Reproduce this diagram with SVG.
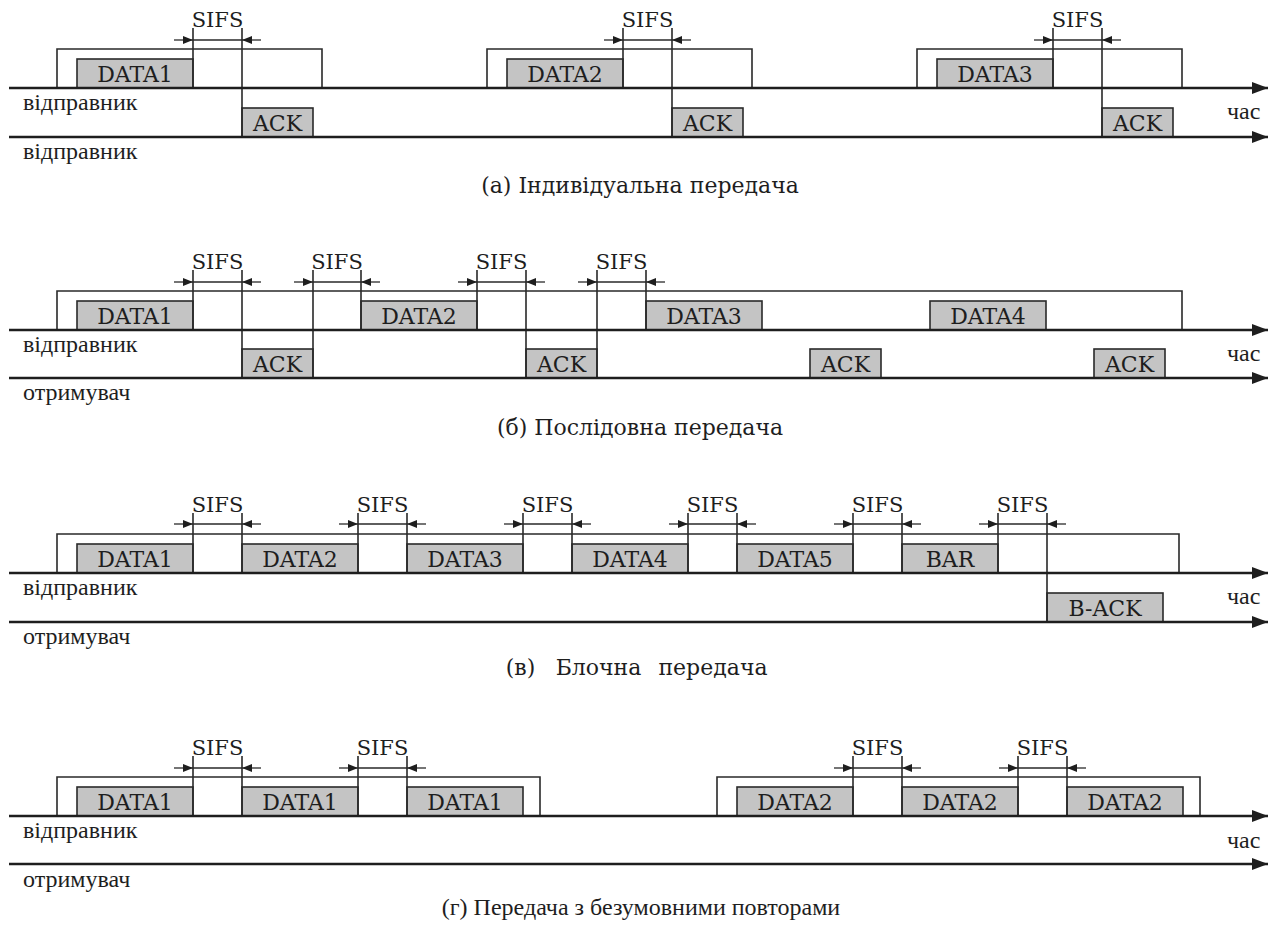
<svg xmlns="http://www.w3.org/2000/svg" width="1278" height="928" viewBox="0 0 1278 928">
<style>
.axis{stroke:#1e1e1e;stroke-width:2.6;fill:none}
.frame{stroke:#2a2a2a;stroke-width:1.6;fill:none}
.vl{stroke:#2a2a2a;stroke-width:1.6;fill:none}
.sl{stroke:#2a2a2a;stroke-width:1.3;fill:none}
.box{fill:#c4c4c4;stroke:#2a2a2a;stroke-width:1.6}
.bt{font-size:22px;fill:#1e1e1e;text-anchor:middle}
.st{font-size:21px;fill:#1e1e1e;text-anchor:middle}
.lb{font-size:24px;fill:#1e1e1e}
.cap{font-size:22px;fill:#1e1e1e;text-anchor:middle}
.capd{font-size:24px;fill:#1e1e1e;text-anchor:middle}
</style>
<defs>
<marker id="ah" markerUnits="userSpaceOnUse" markerWidth="18" markerHeight="14" refX="16" refY="7" orient="auto"><path d="M0,1 L16,7 L0,13 Z" fill="#1e1e1e"/></marker>
<marker id="sa" markerUnits="userSpaceOnUse" markerWidth="11" markerHeight="9" refX="10" refY="4.5" orient="auto"><path d="M0,0.5 L10,4.5 L0,8.5 Z" fill="#1e1e1e"/></marker>
</defs>
<rect width="1278" height="928" fill="#ffffff"/>

<!-- ===== Panel (a) ===== -->
<g id="panel-a">
<g id="a-frames" class="frame">
<path d="M57,88 V49 H322 V88"/>
<path d="M487,88 V49 H752 V88"/>
<path d="M917,88 V49 H1182 V88"/>
</g>
<g font-family="DejaVu Serif">
<g id="a-data1"><rect class="box" x="77" y="59" width="116" height="29"/><text class="bt" x="135" y="82">DATA1</text></g>
<g id="a-data2"><rect class="box" x="507" y="59" width="116" height="29"/><text class="bt" x="565" y="82">DATA2</text></g>
<g id="a-data3"><rect class="box" x="937" y="59" width="116" height="29"/><text class="bt" x="995" y="82">DATA3</text></g>
<g id="a-ack1"><rect class="box" x="242" y="108" width="71" height="29"/><text class="bt" x="277.5" y="131">ACK</text></g>
<g id="a-ack2"><rect class="box" x="672" y="108" width="71" height="29"/><text class="bt" x="707.5" y="131">ACK</text></g>
<g id="a-ack3"><rect class="box" x="1102" y="108" width="71" height="29"/><text class="bt" x="1137.5" y="131">ACK</text></g>
</g>
<g id="a-connectors">
<path class="vl" d="M193,28 V88 M242,28 V137 M623,28 V88 M672,28 V137 M1053,28 V88 M1102,28 V137"/>
<path class="sl" d="M193,40 H242 M623,40 H672 M1053,40 H1102"/>
<g marker-end="url(#sa)" class="sl">
<path d="M174,40 H193"/><path d="M261,40 H242"/>
<path d="M604,40 H623"/><path d="M691,40 H672"/>
<path d="M1034,40 H1053"/><path d="M1121,40 H1102"/>
</g>
<path class="axis" d="M9,88 H1268" marker-end="url(#ah)"/>
<path class="axis" d="M9,137 H1268" marker-end="url(#ah)"/>
</g>
<g font-family="DejaVu Serif">
<text class="st" x="217.5" y="27">SIFS</text>
<text class="st" x="647.5" y="27">SIFS</text>
<text class="st" x="1077.5" y="27">SIFS</text>
<text class="cap" x="640" y="193">(а) Індивідуальна передача</text>
</g>
<g font-family="Liberation Serif">
<text class="lb" x="23" y="110">відправник</text>
<text class="lb" x="23" y="159">відправник</text>
<text class="lb" x="1227" y="119">час</text>
</g>
</g>

<!-- ===== Panel (b) ===== -->
<g id="panel-b">
<g id="b-frame" class="frame"><path d="M57,330 V291 H1182 V330"/></g>
<g font-family="DejaVu Serif">
<g id="b-data1"><rect class="box" x="77" y="301" width="116" height="29"/><text class="bt" x="135" y="324">DATA1</text></g>
<g id="b-data2"><rect class="box" x="361" y="301" width="116" height="29"/><text class="bt" x="419" y="324">DATA2</text></g>
<g id="b-data3"><rect class="box" x="646" y="301" width="116" height="29"/><text class="bt" x="704" y="324">DATA3</text></g>
<g id="b-data4"><rect class="box" x="930" y="301" width="116" height="29"/><text class="bt" x="988" y="324">DATA4</text></g>
<g id="b-ack1"><rect class="box" x="242" y="349" width="71" height="29"/><text class="bt" x="277.5" y="372">ACK</text></g>
<g id="b-ack2"><rect class="box" x="526" y="349" width="71" height="29"/><text class="bt" x="561.5" y="372">ACK</text></g>
<g id="b-ack3"><rect class="box" x="810" y="349" width="71" height="29"/><text class="bt" x="845.5" y="372">ACK</text></g>
<g id="b-ack4"><rect class="box" x="1094" y="349" width="71" height="29"/><text class="bt" x="1129.5" y="372">ACK</text></g>
</g>
<g id="b-connectors">
<path class="vl" d="M193,270 V330 M242,270 V378 M313,270 V378 M361,270 V330 M477,270 V330 M526,270 V378 M597,270 V378 M646,270 V330"/>
<path class="sl" d="M193,282 H242 M313,282 H361 M477,282 H526 M597,282 H646"/>
<g marker-end="url(#sa)" class="sl">
<path d="M174,282 H193"/><path d="M261,282 H242"/>
<path d="M294,282 H313"/><path d="M380,282 H361"/>
<path d="M458,282 H477"/><path d="M545,282 H526"/>
<path d="M578,282 H597"/><path d="M665,282 H646"/>
</g>
<path class="axis" d="M9,330 H1268" marker-end="url(#ah)"/>
<path class="axis" d="M9,378 H1268" marker-end="url(#ah)"/>
</g>
<g font-family="DejaVu Serif">
<text class="st" x="217.5" y="269">SIFS</text>
<text class="st" x="337" y="269">SIFS</text>
<text class="st" x="501.5" y="269">SIFS</text>
<text class="st" x="621.5" y="269">SIFS</text>
<text class="cap" x="640" y="435">(б) Послідовна передача</text>
</g>
<g font-family="Liberation Serif">
<text class="lb" x="23" y="352">відправник</text>
<text class="lb" x="23" y="400">отримувач</text>
<text class="lb" x="1227" y="361">час</text>
</g>
</g>

<!-- ===== Panel (c) ===== -->
<g id="panel-c">
<g id="c-frame" class="frame"><path d="M57,573 V534 H1179 V573"/></g>
<g font-family="DejaVu Serif">
<g id="c-data1"><rect class="box" x="77" y="544" width="116" height="29"/><text class="bt" x="135" y="567">DATA1</text></g>
<g id="c-data2"><rect class="box" x="242" y="544" width="116" height="29"/><text class="bt" x="300" y="567">DATA2</text></g>
<g id="c-data3"><rect class="box" x="407" y="544" width="116" height="29"/><text class="bt" x="465" y="567">DATA3</text></g>
<g id="c-data4"><rect class="box" x="572" y="544" width="116" height="29"/><text class="bt" x="630" y="567">DATA4</text></g>
<g id="c-data5"><rect class="box" x="737" y="544" width="116" height="29"/><text class="bt" x="795" y="567">DATA5</text></g>
<g id="c-bar"><rect class="box" x="902" y="544" width="96" height="29"/><text class="bt" x="950" y="567">BAR</text></g>
<g id="c-back"><rect class="box" x="1047" y="593" width="116" height="29"/><text class="bt" x="1105" y="616">B-ACK</text></g>
</g>
<g id="c-connectors">
<path class="vl" d="M193,513 V573 M242,513 V573 M358,513 V573 M407,513 V573 M523,513 V573 M572,513 V573 M688,513 V573 M737,513 V573 M853,513 V573 M902,513 V573 M998,513 V573 M1047,513 V622"/>
<path class="sl" d="M193,524 H242 M358,524 H407 M523,524 H572 M688,524 H737 M853,524 H902 M998,524 H1047"/>
<g marker-end="url(#sa)" class="sl">
<path d="M174,524 H193"/><path d="M261,524 H242"/>
<path d="M339,524 H358"/><path d="M426,524 H407"/>
<path d="M504,524 H523"/><path d="M591,524 H572"/>
<path d="M669,524 H688"/><path d="M756,524 H737"/>
<path d="M834,524 H853"/><path d="M921,524 H902"/>
<path d="M979,524 H998"/><path d="M1066,524 H1047"/>
</g>
<path class="axis" d="M9,573 H1268" marker-end="url(#ah)"/>
<path class="axis" d="M9,622 H1268" marker-end="url(#ah)"/>
</g>
<g font-family="DejaVu Serif">
<text class="st" x="217.5" y="512">SIFS</text>
<text class="st" x="382.5" y="512">SIFS</text>
<text class="st" x="547.5" y="512">SIFS</text>
<text class="st" x="712.5" y="512">SIFS</text>
<text class="st" x="877.5" y="512">SIFS</text>
<text class="st" x="1022.5" y="512">SIFS</text>
<text class="cap" y="675"><tspan x="524">(в)</tspan> <tspan x="602">Блочна</tspan> <tspan x="713">передача</tspan></text>
</g>
<g font-family="Liberation Serif">
<text class="lb" x="23" y="595">відправник</text>
<text class="lb" x="23" y="644">отримувач</text>
<text class="lb" x="1227" y="604">час</text>
</g>
</g>

<!-- ===== Panel (d) ===== -->
<g id="panel-d">
<g id="d-frames" class="frame">
<path d="M57,816 V777 H540 V816"/>
<path d="M717,816 V777 H1200 V816"/>
</g>
<g font-family="DejaVu Serif">
<g id="d-data1a"><rect class="box" x="77" y="787" width="116" height="29"/><text class="bt" x="135" y="810">DATA1</text></g>
<g id="d-data1b"><rect class="box" x="242" y="787" width="116" height="29"/><text class="bt" x="300" y="810">DATA1</text></g>
<g id="d-data1c"><rect class="box" x="407" y="787" width="116" height="29"/><text class="bt" x="465" y="810">DATA1</text></g>
<g id="d-data2a"><rect class="box" x="737" y="787" width="116" height="29"/><text class="bt" x="795" y="810">DATA2</text></g>
<g id="d-data2b"><rect class="box" x="902" y="787" width="116" height="29"/><text class="bt" x="960" y="810">DATA2</text></g>
<g id="d-data2c"><rect class="box" x="1067" y="787" width="116" height="29"/><text class="bt" x="1125" y="810">DATA2</text></g>
</g>
<g id="d-connectors">
<path class="vl" d="M193,756 V816 M242,756 V816 M358,756 V816 M407,756 V816 M853,756 V816 M902,756 V816 M1018,756 V816 M1067,756 V816"/>
<path class="sl" d="M193,768 H242 M358,768 H407 M853,768 H902 M1018,768 H1067"/>
<g marker-end="url(#sa)" class="sl">
<path d="M174,768 H193"/><path d="M261,768 H242"/>
<path d="M339,768 H358"/><path d="M426,768 H407"/>
<path d="M834,768 H853"/><path d="M921,768 H902"/>
<path d="M999,768 H1018"/><path d="M1086,768 H1067"/>
</g>
<path class="axis" d="M9,816 H1268" marker-end="url(#ah)"/>
<path class="axis" d="M9,864 H1268" marker-end="url(#ah)"/>
</g>
<g font-family="DejaVu Serif">
<text class="st" x="217.5" y="755">SIFS</text>
<text class="st" x="382.5" y="755">SIFS</text>
<text class="st" x="877.5" y="755">SIFS</text>
<text class="st" x="1042.5" y="755">SIFS</text>
</g>
<g font-family="Liberation Serif">
<text class="lb" x="23" y="838">відправник</text>
<text class="lb" x="23" y="887">отримувач</text>
<text class="lb" x="1227" y="848">час</text>
<text class="capd" x="641" y="915">(г) Передача з безумовними повторами</text>
</g>
</g>
</svg>
